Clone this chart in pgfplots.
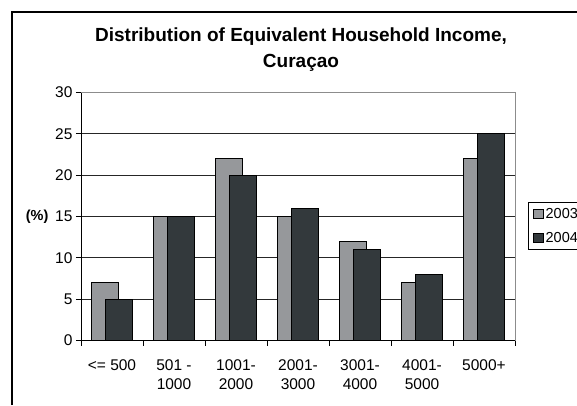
\documentclass[border=0pt]{standalone}
\usepackage{pgfplots}
\pgfplotsset{compat=1.18}
\usepackage{fontspec}
\setmainfont{Liberation Sans}
\definecolor{lightbar}{RGB}{150,152,155}
\definecolor{darkbar}{RGB}{51,57,60}
\begin{document}
\begin{tikzpicture}
\useasboundingbox (0,0) rectangle (577pt,405pt);
\node[font=\fontsize{19}{22}\selectfont\bfseries, anchor=base, inner sep=0pt] at (301pt,363.5pt) {Distribution of Equivalent Household Income,};
\node[font=\fontsize{19}{22}\selectfont\bfseries, anchor=base, inner sep=0pt] at (301pt,337pt) {Curaçao};
\begin{axis}[
  at={(81pt,64.5pt)}, anchor=south west, scale only axis,
  width=434pt, height=248pt,
  xmin=-0.5, xmax=6.5, ymin=0, ymax=30,
  axis lines=left, axis line style={-, line width=1pt, black},
  xtick={0,...,6},
  xticklabels={{<= 500},{501 -\\1000},{1001-\\2000},{2001-\\3000},{3001-\\4000},{4001-\\5000},{5000+}},
  major x tick style={draw=none},
  minor xtick={-0.5,0.5,...,6.5},
  minor x tick style={black, line width=0.8pt},
  major y tick style={black, line width=0.8pt},
  tick align=outside, major tick length=5pt, minor tick length=5pt,
  ytick={0,5,...,30},
  ymajorgrids, grid style={black!85, line width=0.8pt},
  yticklabel style={font=\fontsize{15.5}{18}\selectfont},
  xticklabel style={font=\fontsize{15.5}{19}\selectfont, align=center, anchor=north, yshift=-11pt},
  /pgf/number format/assume math mode=true,
  legend style={at={(1.03,0.558)}, anchor=north west, draw=black, line width=0.8pt,
    font=\fontsize{14.5}{17}\selectfont, row sep=8pt, inner xsep=5pt, inner ysep=4pt},
  legend cell align=left,
  clip=false,
]
\addplot[ybar, fill=lightbar, draw=black, line width=0.9pt, bar width=27pt, bar shift=-7pt,
  legend image code/.code={\draw[fill=lightbar, draw=black, line width=0.7pt] (0pt,-4.5pt) rectangle (9.5pt,5pt);}]
  coordinates {(0,7) (1,15) (2,22) (3,15) (4,12) (5,7) (6,22)};
\addplot[ybar, fill=darkbar, draw=black, line width=0.9pt, bar width=27pt, bar shift=7pt,
  legend image code/.code={\draw[fill=darkbar, draw=black, line width=0.7pt] (0pt,-4.5pt) rectangle (9.5pt,5pt);}]
  coordinates {(0,5) (1,15) (2,20) (3,16) (4,11) (5,8) (6,25)};
\legend{2003,2004}
\draw[black!45, line width=1pt] (axis cs:-0.5,30) -- (axis cs:6.5,30) -- (axis cs:6.5,0);
\node[font=\fontsize{14.5}{17}\selectfont\bfseries] at (axis description cs:-0.101,0.5) {(\%)};
\end{axis}
\draw[line width=2pt, black] (11.5pt,0pt) -- (11.5pt,392.5pt) -- (577pt,392.5pt);
\end{tikzpicture}
\end{document}
